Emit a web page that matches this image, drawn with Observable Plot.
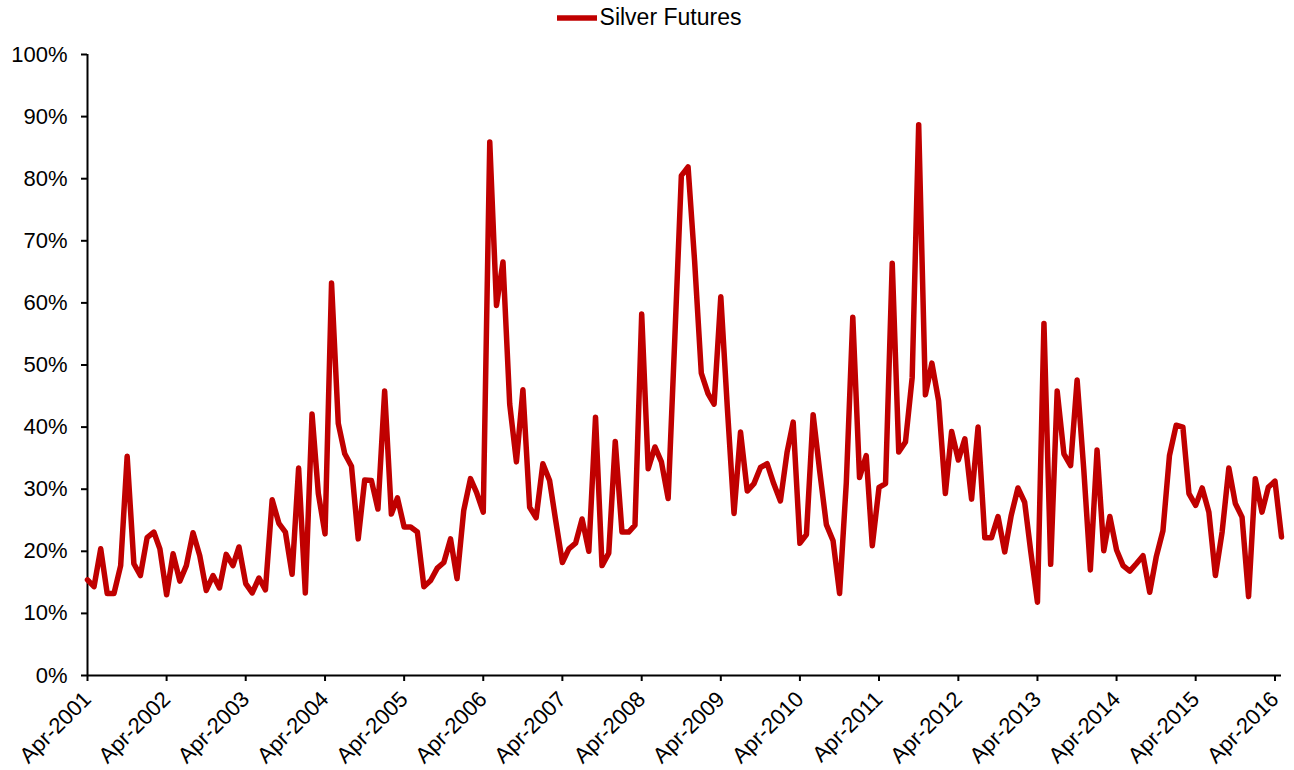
<!DOCTYPE html>
<html>
<head>
<meta charset="utf-8">
<script src="https://cdn.jsdelivr.net/npm/d3@7"></script>
<script src="https://cdn.jsdelivr.net/npm/@observablehq/plot@0.6"></script>
<style>
  html, body { margin: 0; padding: 0; background: #fff; }
  body { width: 1294px; height: 770px; overflow: hidden; font-family: "Liberation Sans", Arial, sans-serif; }
  #legend { height: 35px; display: flex; justify-content: center; align-items: center; font-size: 23px; color: #000; padding-left: 4px; }
  #legend svg { margin-right: 3px; }
  #chart svg { display: block; }
</style>
</head>
<body>
<div id="legend"></div>
<div id="chart"></div>
<script>
// Series: monthly values (%), starting Apr-2001, ending May-2016
const seriesName = "Silver Futures";
const firstYear = 2001;
const firstMonth = 3; // April (0-based)
const values = [
  15.4, 14.3, 20.4, 13.2, 13.2, 17.7, 35.3, 18.0, 16.1, 22.2, 23.1, 20.4,
  13.0, 19.6, 15.2, 17.7, 23.0, 19.3, 13.7, 16.1, 14.1, 19.5, 17.7, 20.7,
  14.8, 13.3, 15.7, 13.8, 28.3, 24.5, 23.1, 16.3, 33.4, 13.3, 42.1, 29.3,
  22.8, 63.2, 40.6, 35.7, 33.7, 22.0, 31.5, 31.4, 26.8, 45.8, 26.0, 28.6,
  23.9, 23.9, 23.1, 14.3, 15.3, 17.3, 18.2, 22.0, 15.6, 26.6, 31.7, 29.5,
  26.3, 85.9, 59.6, 66.6, 43.7, 34.4, 46.0, 27.1, 25.4, 34.1, 31.4, 25.0,
  18.2, 20.4, 21.3, 25.2, 20.0, 41.6, 17.7, 19.7, 37.7, 23.1, 23.1, 24.2,
  58.2, 33.3, 36.8, 34.4, 28.5, 54.5, 80.5, 81.9, 66.8, 48.7, 45.4, 43.7,
  61.0, 43.2, 26.1, 39.2, 29.7, 30.9, 33.5, 34.1, 30.9, 28.1, 36.0, 40.8,
  21.3, 22.7, 42.0, 33.0, 24.3, 21.7, 13.2, 31.0, 57.7, 31.9, 35.4, 20.9,
  30.3, 30.9, 66.4, 36.0, 37.6, 48.0, 88.7, 45.2, 50.3, 44.2, 29.3, 39.3,
  34.7, 38.1, 28.4, 40.0, 22.2, 22.2, 25.6, 19.9, 25.8, 30.2, 27.9, 20.0,
  11.8, 56.7, 17.9, 45.8, 35.7, 33.8, 47.6, 33.0, 17.0, 36.3, 20.1, 25.6,
  20.2, 17.7, 16.8, 18.0, 19.3, 13.4, 19.1, 23.3, 35.4, 40.3, 40.0, 29.3,
  27.4, 30.2, 26.3, 16.1, 23.1, 33.4, 27.7, 25.5, 12.7, 31.7, 26.3, 30.3,
  31.3, 22.3
];
// Tick labels
const tickYears = [2001, 2002, 2003, 2004, 2005, 2006, 2007, 2008, 2009, 2010, 2011, 2012, 2013, 2014, 2015, 2016];
const yTicks = [0, 10, 20, 30, 40, 50, 60, 70, 80, 90, 100];

const data = values.map((v, i) => ({ date: new Date(Date.UTC(firstYear, firstMonth + i, 1)), value: v }));
const tickDates = tickYears.map(y => new Date(Date.UTC(y, firstMonth, 1)));
const fmt = d3.utcFormat("%b-%Y");

// Legend
const legend = document.getElementById("legend");
legend.innerHTML = `<svg width="40" height="10"><line x1="0" x2="40" y1="5" y2="5" stroke="#C00000" stroke-width="5.5"/></svg><span>${seriesName}</span>`;

const chart = Plot.plot({
  width: 1294,
  height: 735,
  marginTop: 19,
  marginBottom: 95,
  marginLeft: 87,
  marginRight: 13,
  style: { fontFamily: "Liberation Sans, Arial, sans-serif", fontSize: "22px", color: "#000", background: "#fff", overflow: "visible" },
  x: { type: "utc", domain: [data[0].date, data[data.length - 1].date] },
  y: { domain: [0, 100] },
  marks: [
    Plot.axisY({ ticks: yTicks, tickFormat: d => d + "%", tickSize: 6, tickPadding: 14, label: null, stroke: "#000", strokeWidth: 2, fontSize: 22 }),
    Plot.axisX({ ticks: tickDates, tickFormat: fmt, tickRotate: -45, tickSize: 6, tickPadding: 14, label: null, stroke: "#000", strokeWidth: 2, fontSize: 22 }),
    Plot.ruleX([data[0].date], { stroke: "#000", strokeWidth: 2 }),
    Plot.ruleY([0], { stroke: "#000", strokeWidth: 2 }),
    Plot.line(data, { x: "date", y: "value", stroke: "#C00000", strokeWidth: 5.5, strokeLinejoin: "round", strokeLinecap: "round" })
  ]
});
document.getElementById("chart").appendChild(chart);
</script>
</body>
</html>
